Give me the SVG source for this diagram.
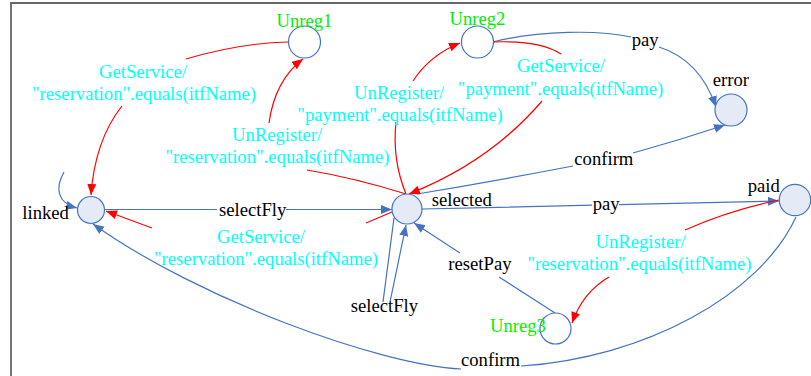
<svg xmlns="http://www.w3.org/2000/svg" width="811" height="376" viewBox="0 0 811 376">
<defs>
<style>
text{font-family:"Liberation Serif","Times New Roman",serif;font-size:18.67px}
.lbl{fill:#000}
.cy{fill:#00ffff;text-anchor:middle}
.gr{fill:#00ee00}
.node{fill:#e4eaf6;stroke:#4472c4;stroke-width:1.2}
.nodew{fill:#fff;stroke:#4472c4;stroke-width:1.2}
.b{fill:none;stroke:#4472c4;stroke-width:1.2;marker-end:url(#ab)}
.bn{fill:none;stroke:#4472c4;stroke-width:1.2}
.r{fill:none;stroke:#ff0000;stroke-width:1.2;marker-end:url(#ar)}
</style>
<marker id="ab" markerUnits="userSpaceOnUse" markerWidth="12" markerHeight="10" refX="11" refY="4.5" orient="auto">
<path d="M0,0 L11,4.5 L0,9 z" fill="#4472c4"/>
</marker>
<marker id="ar" markerUnits="userSpaceOnUse" markerWidth="12" markerHeight="10" refX="11" refY="4.5" orient="auto">
<path d="M0,0 L11,4.5 L0,9 z" fill="#ff0000"/>
</marker>
</defs>
<rect width="811" height="376" fill="#fff"/>
<path d="M11,376 L11,3 L811,3" fill="none" stroke="#666" stroke-width="1.8"/>

<g id="connectors">
<path class="b" d="M64,172 C55,188 57,203 77,208"/>
<path class="b" d="M105,209.5 L217,209.5 M286,209.5 L392,209.5"/>
<path class="b" d="M422,209 L592,205.2 M619,204.6 L779,201"/>
<path class="b" d="M493,42 C540,30 600,30 631,37 M659,47 Q700,60 716,107"/>
<path class="b" d="M417,194 Q495,181 573,166 M633,153 Q680,140 725,125"/>
<path class="b" d="M394,218 L383,302 M390,302 L406,225"/>
<path class="b" d="M555,313 L499,277 M460,253 L414,223"/>
<path class="b" d="M796,217 C760,295 645,358 521,366 M461,369 C380,365 200,300 93,224"/>
<path class="r" d="M288,42 Q240,43 186,59 M122,106 Q95,140 91,195"/>
<path class="r" d="M406,194 Q355,178 307,170 M269,123 Q275,80 303,59"/>
<path class="r" d="M406,194 Q392,160 396,122 M413,81 Q430,55 460,43"/>
<path class="r" d="M493,42 Q540,40 561,54 M542,101 Q490,162 409,194"/>
<path class="r" d="M392,212 L366,223 M152,228 L106,211"/>
<path class="r" d="M779,200 Q730,210 685,230 M609,277 Q583,292 572,323"/>
</g>

<g id="edge-labels">
<text class="lbl" x="219" y="216">selectFly</text>
<text class="lbl" x="592.7" y="210">pay</text>
<text class="lbl" x="631.7" y="46">pay</text>
<text class="lbl" x="574.3" y="164.5">confirm</text>
<text class="lbl" x="350.7" y="311.7">selectFly</text>
<text class="lbl" x="448.3" y="270">resetPay</text>
<text class="lbl" x="461" y="366">confirm</text>
<text class="cy" x="143" y="78">GetService/</text>
<text class="cy" x="144" y="100">"reservation".equals(itfName)</text>
<text class="cy" x="277" y="141">UnRegister/</text>
<text class="cy" x="277.5" y="163">"reservation".equals(itfName)</text>
<text class="cy" x="399" y="99">UnRegister/</text>
<text class="cy" x="400" y="121">"payment".equals(itfName)</text>
<text class="cy" x="561" y="72">GetService/</text>
<text class="cy" x="560.5" y="95">"payment".equals(itfName)</text>
<text class="cy" x="261" y="243">GetService/</text>
<text class="cy" x="266" y="265">"reservation".equals(itfName)</text>
<text class="cy" x="640.5" y="248">UnRegister/</text>
<text class="cy" x="639.5" y="270">"reservation".equals(itfName)</text>
</g>

<g id="linked"><circle class="node" cx="91" cy="210" r="13.5"/><text class="lbl" x="22.3" y="219">linked</text></g>
<g id="selected"><circle class="node" cx="407" cy="209" r="15"/><text class="lbl" x="431.7" y="205.7">selected</text></g>
<g id="Unreg1"><circle class="nodew" cx="304.5" cy="42" r="16"/><text class="gr" x="276.5" y="27">Unreg1</text></g>
<g id="Unreg2"><circle class="nodew" cx="477.5" cy="42" r="16"/><text class="gr" x="449.5" y="25">Unreg2</text></g>
<g id="error"><circle class="node" cx="731" cy="110" r="16"/><text class="lbl" x="712.7" y="86">error</text></g>
<g id="paid"><circle class="node" cx="795" cy="200" r="15.7"/><text class="lbl" x="747.7" y="192">paid</text></g>
<g id="Unreg3"><circle class="nodew" cx="555.5" cy="328.5" r="15.5"/><text class="gr" x="490" y="332">Unreg3</text></g>
</svg>
